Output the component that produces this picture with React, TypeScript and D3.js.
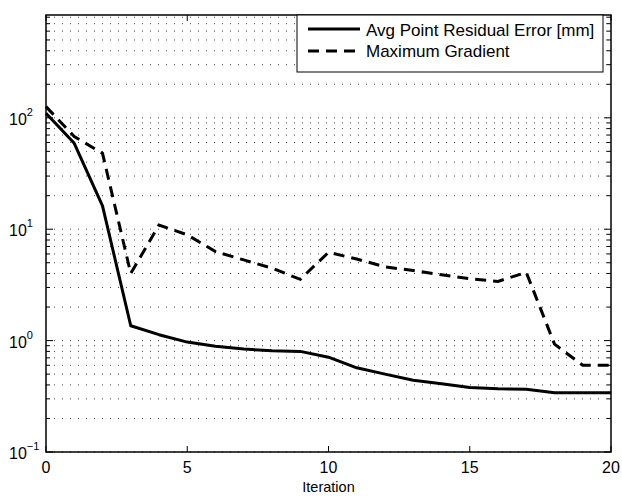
import React from "react";
import * as d3 from "d3";

const iterations = [0,1,2,3,4,5,6,7,8,9,10,11,12,13,14,15,16,17,18,19,20];
const avgResidual = [110,59,16.2,1.36,1.13,0.97,0.89,0.84,0.81,0.80,0.71,0.57,0.50,0.44,0.41,0.38,0.37,0.365,0.34,0.34,0.34];
const maxGradient = [126,68,48,4.0,10.9,8.9,6.3,5.3,4.47,3.55,6.2,5.4,4.6,4.25,3.9,3.6,3.4,4.1,0.93,0.60,0.60];
const xTicks = [0,5,10,15,20];
const yExponents = [-1,0,1,2];
const legendLabels = ["Avg Point Residual Error [mm]", "Maximum Gradient"];

const W = 622, H = 496;
const L = 46, R = 611, T = 15, B = 452;

export default function App() {
  const x = d3.scaleLinear().domain([0, 20]).range([L, R]);
  const y = d3.scaleLog().domain([0.1, Math.pow(10, 2.923)]).range([B, T]);
  const [y0, y1] = y.domain();
  const grid: number[] = [];
  for (let k = -1; k <= 3; k++) {
    for (let m = 1; m <= 9; m++) {
      const v = m * Math.pow(10, k);
      if (v >= y0 * 0.999 && v <= y1) grid.push(v);
    }
  }
  const line = d3.line<number>().x((_, i) => x(iterations[i])).y(d => y(d));
  const font = "'Liberation Sans', Arial, Helvetica, sans-serif";
  return (
    <svg width={W} height={H} style={{ position: "absolute", left: 0, top: 0, background: "#fff" }} fontFamily={font}>
      <rect x={0} y={0} width={W} height={H} fill="#fff" />
      {grid.map((v, i) => (
        <line key={"g" + i} x1={L} x2={R} y1={y(v)} y2={y(v)} stroke="#444" strokeWidth={1} strokeDasharray="1 7" />
      ))}
      {grid.map((v, i) => {
        const isMajor = Math.abs(Math.log10(v) - Math.round(Math.log10(v))) < 1e-9;
        const len = isMajor ? 7 : 4;
        return (
          <g key={"t" + i}>
            <line x1={L} x2={L + len} y1={y(v)} y2={y(v)} stroke="#000" strokeWidth={1} />
            <line x1={R} x2={R - len} y1={y(v)} y2={y(v)} stroke="#000" strokeWidth={1} />
          </g>
        );
      })}
      {xTicks.map(t => (
        <g key={"x" + t}>
          <line x1={x(t)} x2={x(t)} y1={B} y2={B - 6} stroke="#000" strokeWidth={1} />
          <line x1={x(t)} x2={x(t)} y1={T} y2={T + 6} stroke="#000" strokeWidth={1} />
          <text x={x(t)} y={B + 21} fontSize={16} textAnchor="middle">{t}</text>
        </g>
      ))}
      {yExponents.map(e => (
        <text key={"y" + e} x={9} y={y(Math.pow(10, e)) + 7} fontSize={16}>
          10<tspan dy={-9} fontSize={11}>{e < 0 ? "\u2212" + Math.abs(e) : e}</tspan>
        </text>
      ))}
      <text x={(L + R) / 2} y={492} fontSize={14.5} textAnchor="middle">Iteration</text>
      <path d={line(avgResidual) || ""} fill="none" stroke="#000" strokeWidth={3} strokeLinejoin="round" />
      <path d={line(maxGradient) || ""} fill="none" stroke="#000" strokeWidth={3} strokeDasharray="11 7" />
      <rect x={L} y={T} width={R - L} height={B - T} fill="none" stroke="#000" strokeWidth={1.5} />
      <g>
        <rect x={297} y={T} width={306} height={57} fill="#fff" stroke="#000" strokeWidth={1} />
        <line x1={308} x2={360} y1={29} y2={29} stroke="#000" strokeWidth={3} />
        <line x1={308} x2={360} y1={51} y2={51} stroke="#000" strokeWidth={3} strokeDasharray="11 7" />
        <text x={366} y={35.5} fontSize={17}>{legendLabels[0]}</text>
        <text x={366} y={57} fontSize={17}>{legendLabels[1]}</text>
      </g>
    </svg>
  );
}
